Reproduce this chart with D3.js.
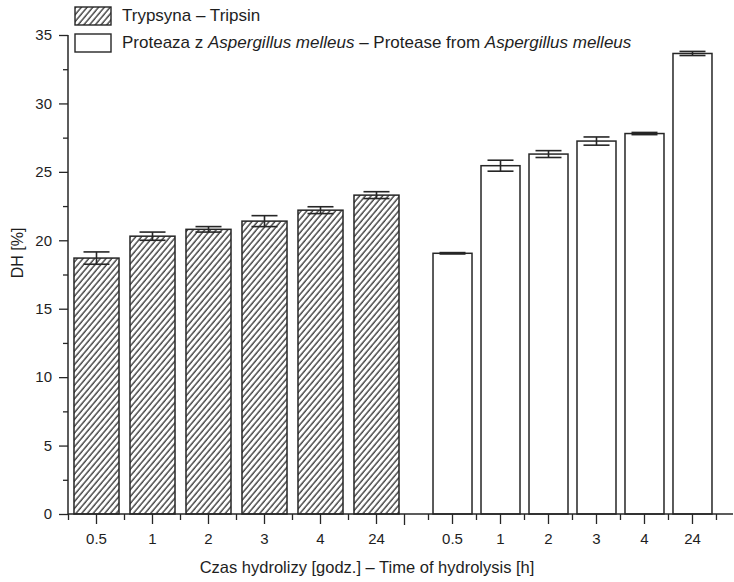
<!DOCTYPE html>
<html>
<head>
<meta charset="utf-8">
<script src="https://cdn.jsdelivr.net/npm/d3@7/dist/d3.min.js"></script>
<style>
  html, body { margin: 0; padding: 0; background: #fff; }
  svg { display: block; font-family: "Liberation Sans", Arial, Helvetica, sans-serif; }
  .tick text { fill: #1e1e1e; }
</style>
</head>
<body>
<svg id="chart" width="734" height="582"></svg>
<script>
// Hydrolysis time points (hours)
const categories = ["0.5", "1", "2", "3", "4", "24"];
// Degree of hydrolysis, trypsin
const trypsinDH = [18.7, 20.3, 20.8, 21.4, 22.2, 23.3];
const trypsinErr = [0.45, 0.3, 0.2, 0.4, 0.25, 0.25];
// Degree of hydrolysis, Aspergillus melleus protease
const proteaseDH = [19.05, 25.45, 26.3, 27.25, 27.8, 33.65];
const proteaseErr = [0.05, 0.4, 0.25, 0.3, 0.08, 0.15];
// Axis ticks
const yMajorTicks = [0, 5, 10, 15, 20, 25, 30, 35];
const yMinorTicks = [2.5, 7.5, 12.5, 17.5, 22.5, 27.5, 32.5];

const ink = "#262626";
const svg = d3.select("#chart");

// Diagonal hatch used for the trypsin bars
const defs = svg.append("defs");
const hs = 4.4;
const pat = defs.append("pattern")
  .attr("id", "hatch")
  .attr("patternUnits", "userSpaceOnUse")
  .attr("width", hs).attr("height", hs)
  .attr("patternTransform", "rotate(40)");
pat.append("rect").attr("width", hs).attr("height", hs).attr("fill", "#fff");
pat.append("line")
  .attr("x1", 1).attr("y1", 0).attr("x2", 1).attr("y2", hs)
  .attr("stroke", "#2e2e2e").attr("stroke-width", 1.3);

const plot = { left: 68, right: 733, top: 35, bottom: 514 };

const y = d3.scaleLinear().domain([0, 35]).range([plot.bottom, plot.top]);

// Two groups of time points share one baseline
const x1 = d3.scaleBand().domain(categories).range([68.5, 404.5])
  .paddingInner(0.196).paddingOuter(0.098);
const x2 = d3.scaleBand().domain(categories).range([428.5, 716.5])
  .paddingInner(0.1875).paddingOuter(0.094);

const groups = [
  { scale: x1, values: trypsinDH, err: trypsinErr, fill: "url(#hatch)" },
  { scale: x2, values: proteaseDH, err: proteaseErr, fill: "#fff" }
];

// Bars
groups.forEach(g => {
  svg.append("g").selectAll("rect")
    .data(categories)
    .join("rect")
    .attr("x", (d) => g.scale(d))
    .attr("y", (d, i) => y(g.values[i]))
    .attr("width", g.scale.bandwidth())
    .attr("height", (d, i) => y(0) - y(g.values[i]))
    .attr("fill", g.fill)
    .attr("stroke", ink)
    .attr("stroke-width", 1.5);
});

// Error bars
const capHalf = 13;
groups.forEach(g => {
  const eg = svg.append("g").attr("stroke", ink).attr("stroke-width", 1.6);
  categories.forEach((c, i) => {
    const cx = g.scale(c) + g.scale.bandwidth() / 2;
    const hi = y(g.values[i] + g.err[i]);
    const lo = y(g.values[i] - g.err[i]);
    eg.append("line").attr("x1", cx).attr("x2", cx).attr("y1", hi).attr("y2", lo);
    eg.append("line").attr("x1", cx - capHalf).attr("x2", cx + capHalf).attr("y1", hi).attr("y2", hi);
    eg.append("line").attr("x1", cx - capHalf).attr("x2", cx + capHalf).attr("y1", lo).attr("y2", lo);
  });
});

// Y axis
const yAxis = svg.append("g").attr("transform", `translate(${plot.left},0)`)
  .call(d3.axisLeft(y).tickValues(yMajorTicks).tickSize(9).tickPadding(7).tickFormat(d3.format("d")));
yAxis.select(".domain").remove();
yAxis.selectAll("line").attr("stroke", ink).attr("stroke-width", 1.3);
yAxis.selectAll("text").attr("font-size", 15);

const yMinor = svg.append("g").attr("transform", `translate(${plot.left},0)`)
  .call(d3.axisLeft(y).tickValues(yMinorTicks).tickSize(5).tickFormat(""));
yMinor.select(".domain").remove();
yMinor.selectAll("line").attr("stroke", ink).attr("stroke-width", 1.3);

svg.append("line")
  .attr("x1", plot.left).attr("x2", plot.left)
  .attr("y1", y(0)).attr("y2", y(35))
  .attr("stroke", ink).attr("stroke-width", 1.5);

// X axis: labelled ticks at bar centres, short ticks between bars
groups.forEach((g, gi) => {
  const ax = svg.append("g").attr("transform", `translate(0,${plot.bottom})`)
    .call(d3.axisBottom(g.scale).tickSize(10).tickPadding(9));
  ax.select(".domain").remove();
  ax.selectAll("line").attr("stroke", ink).attr("stroke-width", 1.3);
  ax.selectAll("text").attr("font-size", 15);

  const step = g.scale.step();
  const start = g.scale.range()[0];
  const bounds = d3.range(categories.length + 1).map(k => start + k * step);
  svg.append("g").selectAll("line")
    .data(bounds)
    .join("line")
    .attr("x1", d => d).attr("x2", d => d)
    .attr("y1", plot.bottom)
    .attr("y2", (d, k) => plot.bottom + ((gi === 0 && k === categories.length) ? 11 : 6))
    .attr("stroke", ink).attr("stroke-width", 1.3);
});

svg.append("line")
  .attr("x1", plot.left).attr("x2", plot.right)
  .attr("y1", plot.bottom).attr("y2", plot.bottom)
  .attr("stroke", ink).attr("stroke-width", 1.5);

// Axis titles
svg.append("text")
  .attr("x", 367).attr("y", 573)
  .attr("text-anchor", "middle")
  .attr("font-size", 16.5).attr("fill", "#1e1e1e")
  .text("Czas hydrolizy [godz.] – Time of hydrolysis [h]");

svg.append("text")
  .attr("transform", "translate(23,253) rotate(-90)")
  .attr("text-anchor", "middle")
  .attr("font-size", 16).attr("fill", "#1e1e1e")
  .text("DH [%]");

// Legend
const legend = svg.append("g");
legend.append("rect").attr("x", 75).attr("y", 7).attr("width", 36).attr("height", 18)
  .attr("fill", "url(#hatch)").attr("stroke", ink).attr("stroke-width", 1.4);
legend.append("rect").attr("x", 75).attr("y", 34).attr("width", 36).attr("height", 18)
  .attr("fill", "#fff").attr("stroke", ink).attr("stroke-width", 1.4);

legend.append("text").attr("x", 122).attr("y", 21)
  .attr("font-size", 17).attr("fill", "#1e1e1e")
  .text("Trypsyna – Tripsin");

const t2 = legend.append("text").attr("x", 122).attr("y", 48)
  .attr("font-size", 17).attr("fill", "#1e1e1e");
t2.append("tspan").text("Proteaza z ");
t2.append("tspan").attr("font-style", "italic").text("Aspergillus melleus");
t2.append("tspan").text(" – Protease from ");
t2.append("tspan").attr("font-style", "italic").text("Aspergillus melleus");
</script>
</body>
</html>
